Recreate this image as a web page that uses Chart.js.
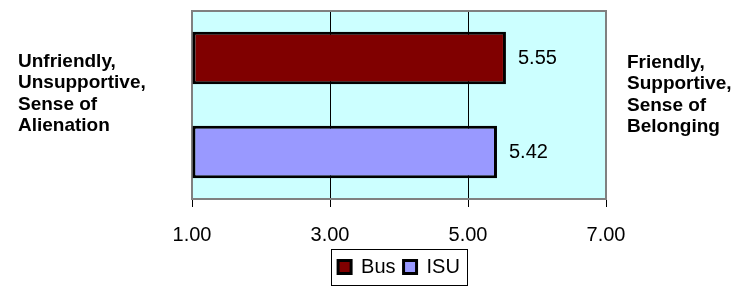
<!DOCTYPE html>
<html>
<head>
<meta charset="utf-8">
<script src="https://cdn.jsdelivr.net/npm/chart.js@4.4.0/dist/chart.umd.min.js"></script>
<style>
    body { margin: 0; background: #ffffff; }
    #wrap { width: 738px; height: 287px; }
</style>
</head>
<body>
<div id="wrap"><canvas id="chart" width="738" height="287"></canvas></div>
<script>
// Chart data
const categories = [''];
const seriesNames = ['Bus', 'ISU'];
const busValues = [5.55];
const isuValues = [5.42];
const xTicks = [1, 3, 5, 7];
const leftLabel = ['Unfriendly,', 'Unsupportive,', 'Sense of', 'Alienation'];
const rightLabel = ['Friendly,', 'Supportive,', 'Sense of', 'Belonging'];

const FONT = '"Liberation Sans", Arial, sans-serif';

// Light cyan plot background with grey frame
const plotBackground = {
    id: 'plotBackground',
    beforeDraw(chart) {
        const { ctx, chartArea: a } = chart;
        ctx.save();
        ctx.fillStyle = '#CCFFFF';
        ctx.fillRect(a.left, a.top, a.right - a.left, a.bottom - a.top);
        ctx.restore();
    },
    beforeDatasetsDraw(chart) {
        const { ctx, chartArea: a } = chart;
        ctx.save();
        ctx.strokeStyle = '#808080';
        ctx.lineWidth = 2;
        ctx.strokeRect(a.left, a.top, a.right - a.left, a.bottom - a.top);
        ctx.restore();
    }
};

// Value labels at the end of each bar, side captions, legend frame
const extras = {
    id: 'extras',
    afterDatasetsDraw(chart) {
        const ctx = chart.ctx;
        ctx.save();
        ctx.font = '20px ' + FONT;
        ctx.fillStyle = '#000';
        ctx.textAlign = 'left';
        ctx.textBaseline = 'middle';
        chart.data.datasets.forEach((ds, i) => {
            const meta = chart.getDatasetMeta(i);
            meta.data.forEach((bar, j) => {
                ctx.fillText(ds.data[j].toFixed(2), bar.x + 12, bar.y);
            });
        });
        ctx.restore();
    },
    afterDraw(chart) {
        const { ctx, chartArea: a } = chart;
        ctx.save();
        ctx.font = 'bold 19px ' + FONT;
        ctx.fillStyle = '#000';
        ctx.textBaseline = 'alphabetic';
        ctx.textAlign = 'left';
        leftLabel.forEach((t, i) => ctx.fillText(t, 18, a.top + 56 + i * 21.3));
        rightLabel.forEach((t, i) => ctx.fillText(t, a.right + 21, a.top + 57 + i * 21.3));

        // box round the legend
        const boxes = chart.legend.legendHitBoxes;
        if (boxes && boxes.length) {
            let x0 = Infinity, x1 = -Infinity, y0 = Infinity, y1 = -Infinity;
            boxes.forEach(b => {
                x0 = Math.min(x0, b.left);
                x1 = Math.max(x1, b.left + b.width);
                y0 = Math.min(y0, b.top);
                y1 = Math.max(y1, b.top + b.height);
            });
            ctx.strokeStyle = '#000';
            ctx.lineWidth = 1;
            ctx.strokeRect(Math.round(x0 - 7) + 0.5, Math.round(y0 - 8) + 0.5,
                Math.round(x1 - x0 + 14), Math.round(y1 - y0 + 16));
        }
        ctx.restore();
    }
};

new Chart(document.getElementById('chart'), {
    type: 'bar',
    data: {
        labels: categories,
        datasets: [{
            label: seriesNames[0],
            data: busValues,
            base: 1,
            backgroundColor: '#800000',
            borderColor: '#000000',
            borderWidth: 3,
            borderSkipped: false
        }, {
            label: seriesNames[1],
            data: isuValues,
            base: 1,
            backgroundColor: '#9999FF',
            borderColor: '#000000',
            borderWidth: 3,
            borderSkipped: false
        }]
    },
    options: {
        indexAxis: 'y',
        responsive: false,
        animation: false,
        categoryPercentage: 1.0,
        barPercentage: 0.56,
        layout: {
            padding: { top: 11, left: 192, right: 132, bottom: 0 }
        },
        scales: {
            x: {
                min: 1,
                max: 7,
                afterBuildTicks(axis) {
                    axis.ticks = xTicks.map(v => ({ value: v }));
                },
                afterFit(axis) {
                    axis.height = 50;
                },
                border: { display: false },
                grid: {
                    color: c => (c.tick && (c.tick.value === 1 || c.tick.value === 7)) ? 'rgba(0,0,0,0)' : '#000000',
                    lineWidth: 1,
                    drawTicks: true,
                    tickLength: 8,
                    tickColor: '#000000'
                },
                ticks: {
                    color: '#000',
                    font: { family: FONT, size: 20 },
                    padding: 16,
                    callback: v => Number(v).toFixed(2)
                }
            },
            y: {
                display: false
            }
        },
        plugins: {
            legend: {
                position: 'bottom',
                labels: {
                    color: '#000',
                    font: { family: FONT, size: 20 },
                    boxWidth: 13,
                    boxHeight: 13,
                    padding: 8
                }
            },
            tooltip: { enabled: false }
        }
    },
    plugins: [plotBackground, extras]
});
</script>
</body>
</html>
